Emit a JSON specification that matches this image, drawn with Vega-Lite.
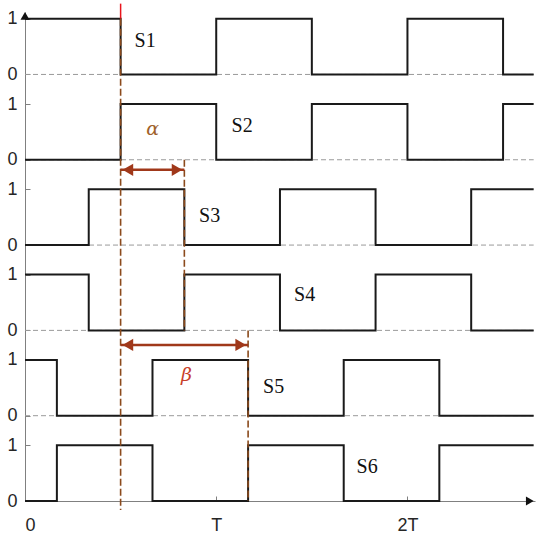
{
  "$schema": "https://vega.github.io/schema/vega-lite/v6.json",
  "width": 510,
  "height": 489,
  "autosize": {"type": "none"},
  "padding": {"left": 25, "top": 12, "right": 15, "bottom": 37},
  "background": "white",
  "view": {"stroke": null},
  "config": {
    "axis": {"grid": false, "domainColor": "#808080", "domainWidth": 1, "tickColor": "#808080", "tickSize": -5, "labelFont": "Liberation Sans", "labelFontSize": 18, "labelColor": "#262626", "title": null}
  },
  "datasets": {
    "sig": [
      {"s": "S1", "row": 5, "t": 0, "v": 1}, {"s": "S1", "row": 5, "t": 0.5, "v": 0}, {"s": "S1", "row": 5, "t": 1, "v": 1}, {"s": "S1", "row": 5, "t": 1.5, "v": 0}, {"s": "S1", "row": 5, "t": 2, "v": 1}, {"s": "S1", "row": 5, "t": 2.5, "v": 0}, {"s": "S1", "row": 5, "t": 2.66, "v": 0},
      {"s": "S2", "row": 4, "t": 0, "v": 0}, {"s": "S2", "row": 4, "t": 0.5, "v": 1}, {"s": "S2", "row": 4, "t": 1, "v": 0}, {"s": "S2", "row": 4, "t": 1.5, "v": 1}, {"s": "S2", "row": 4, "t": 2, "v": 0}, {"s": "S2", "row": 4, "t": 2.5, "v": 1}, {"s": "S2", "row": 4, "t": 2.66, "v": 1},
      {"s": "S3", "row": 3, "t": 0, "v": 0}, {"s": "S3", "row": 3, "t": 0.3333, "v": 1}, {"s": "S3", "row": 3, "t": 0.8333, "v": 0}, {"s": "S3", "row": 3, "t": 1.3333, "v": 1}, {"s": "S3", "row": 3, "t": 1.8333, "v": 0}, {"s": "S3", "row": 3, "t": 2.3333, "v": 1}, {"s": "S3", "row": 3, "t": 2.66, "v": 1},
      {"s": "S4", "row": 2, "t": 0, "v": 1}, {"s": "S4", "row": 2, "t": 0.3333, "v": 0}, {"s": "S4", "row": 2, "t": 0.8333, "v": 1}, {"s": "S4", "row": 2, "t": 1.3333, "v": 0}, {"s": "S4", "row": 2, "t": 1.8333, "v": 1}, {"s": "S4", "row": 2, "t": 2.3333, "v": 0}, {"s": "S4", "row": 2, "t": 2.66, "v": 0},
      {"s": "S5", "row": 1, "t": 0, "v": 1}, {"s": "S5", "row": 1, "t": 0.1667, "v": 0}, {"s": "S5", "row": 1, "t": 0.6667, "v": 1}, {"s": "S5", "row": 1, "t": 1.1667, "v": 0}, {"s": "S5", "row": 1, "t": 1.6667, "v": 1}, {"s": "S5", "row": 1, "t": 2.1667, "v": 0}, {"s": "S5", "row": 1, "t": 2.66, "v": 0},
      {"s": "S6", "row": 0, "t": 0, "v": 0}, {"s": "S6", "row": 0, "t": 0.1667, "v": 1}, {"s": "S6", "row": 0, "t": 0.6667, "v": 0}, {"s": "S6", "row": 0, "t": 1.1667, "v": 1}, {"s": "S6", "row": 0, "t": 1.6667, "v": 0}, {"s": "S6", "row": 0, "t": 2.1667, "v": 1}, {"s": "S6", "row": 0, "t": 2.66, "v": 1}
    ],
    "zero": [{"row": 1, "v": 0}, {"row": 2, "v": 0}, {"row": 3, "v": 0}, {"row": 4, "v": 0}, {"row": 5, "v": 0}],
    "vlines": [
      {"t": 0.5, "row": 5, "v": 1.0, "row2": 0, "v2": -0.16},
      {"t": 0.8333, "row": 4, "v": 0, "row2": 2, "v2": 0},
      {"t": 1.1667, "row": 2, "v": 0, "row2": 0, "v2": 0}
    ],
    "redtop": [{"t": 0.5, "row": 5, "v": 1.27, "row2": 5, "v2": 1.0}],
    "arrows": [
      {"name": "alpha", "row": 3, "v": 1.35, "t": 0.5, "t2": 0.8333},
      {"name": "beta", "row": 1, "v": 1.27, "t": 0.5, "t2": 1.1667}
    ],
    "heads": [
      {"row": 3, "v": 1.35, "t": 0.538, "dir": "triangle-left"},
      {"row": 3, "v": 1.35, "t": 0.795, "dir": "triangle-right"},
      {"row": 1, "v": 1.27, "t": 0.538, "dir": "triangle-left"},
      {"row": 1, "v": 1.27, "t": 1.128, "dir": "triangle-right"}
    ],
    "axisheads": [
      {"row": 5, "v": 1.05, "t": 0, "dir": "triangle-up"},
      {"row": 0, "v": 0, "t": 2.64, "dir": "triangle-right"}
    ],
    "labels": [
      {"row": 5, "v": 0.49, "t": 0.573, "text": "S1"},
      {"row": 4, "v": 0.50, "t": 1.080, "text": "S2"},
      {"row": 3, "v": 0.42, "t": 0.910, "text": "S3"},
      {"row": 2, "v": 0.52, "t": 1.407, "text": "S4"},
      {"row": 1, "v": 0.41, "t": 1.245, "text": "S5"},
      {"row": 0, "v": 0.50, "t": 1.734, "text": "S6"}
    ],
    "greek": [
      {"row": 4, "v": 0.44, "t": 0.667, "text": "α"},
      {"row": 1, "v": 0.63, "t": 0.844, "text": "β"}
    ]
  },
  "layer": [
    {
      "data": {"name": "zero"},
      "transform": [{"calculate": "datum.row * 1.53 + datum.v", "as": "y"}],
      "mark": {"type": "rule", "color": "#9a9a9a", "strokeWidth": 1, "strokeDash": [5, 3]},
      "encoding": {
        "x": {"datum": 0, "type": "quantitative", "scale": {"domain": [0, 2.667], "nice": false, "zero": false},
          "axis": {"values": [0, 1, 2], "labelExpr": "datum.value == 0 ? '0' : datum.value == 1 ? 'T' : '2T'", "labelPadding": 20}},
        "x2": {"datum": 2.66},
        "y": {"field": "y", "type": "quantitative", "scale": {"domain": [0, 8.77], "nice": false, "zero": false},
          "axis": {"values": [0, 1, 1.53, 2.53, 3.06, 4.06, 4.59, 5.59, 6.12, 7.12, 7.65, 8.65], "labelExpr": "indexof([0, 1.53, 3.06, 4.59, 6.12, 7.65], datum.value) >= 0 ? '0' : '1'", "labelPadding": 13}}
      }
    },
    {
      "data": {"name": "sig"},
      "transform": [{"calculate": "datum.row * 1.53 + datum.v", "as": "y"}],
      "mark": {"type": "line", "interpolate": "step-after", "color": "#1a1a1a", "strokeWidth": 2},
      "encoding": {
        "x": {"field": "t", "type": "quantitative"},
        "y": {"field": "y", "type": "quantitative"},
        "detail": {"field": "s"}
      }
    },
    {
      "data": {"name": "vlines"},
      "transform": [{"calculate": "datum.row * 1.53 + datum.v", "as": "y"}, {"calculate": "datum.row2 * 1.53 + datum.v2", "as": "y2"}],
      "mark": {"type": "rule", "color": "#8B4A1C", "strokeWidth": 1.6, "strokeDash": [7, 3]},
      "encoding": {
        "x": {"field": "t", "type": "quantitative"},
        "y": {"field": "y", "type": "quantitative"},
        "y2": {"field": "y2"}
      }
    },
    {
      "data": {"name": "redtop"},
      "transform": [{"calculate": "datum.row * 1.53 + datum.v", "as": "y"}, {"calculate": "datum.row2 * 1.53 + datum.v2", "as": "y2"}],
      "mark": {"type": "rule", "color": "#e8141c", "strokeWidth": 1.5},
      "encoding": {
        "x": {"field": "t", "type": "quantitative"},
        "y": {"field": "y", "type": "quantitative"},
        "y2": {"field": "y2"}
      }
    },
    {
      "data": {"name": "arrows"},
      "transform": [{"calculate": "datum.row * 1.53 + datum.v", "as": "y"}],
      "mark": {"type": "rule", "color": "#A0381A", "strokeWidth": 2.5},
      "encoding": {
        "x": {"field": "t", "type": "quantitative"},
        "x2": {"field": "t2"},
        "y": {"field": "y", "type": "quantitative"}
      }
    },
    {
      "data": {"name": "heads"},
      "transform": [{"calculate": "datum.row * 1.53 + datum.v", "as": "y"}],
      "mark": {"type": "point", "filled": true, "color": "#A0381A", "size": 150, "opacity": 1},
      "encoding": {
        "x": {"field": "t", "type": "quantitative"},
        "y": {"field": "y", "type": "quantitative"},
        "shape": {"field": "dir", "type": "nominal", "scale": null}
      }
    },
    {
      "data": {"name": "axisheads"},
      "transform": [{"calculate": "datum.row * 1.53 + datum.v", "as": "y"}],
      "mark": {"type": "point", "filled": true, "color": "#111111", "size": 80, "opacity": 1},
      "encoding": {
        "x": {"field": "t", "type": "quantitative"},
        "y": {"field": "y", "type": "quantitative"},
        "shape": {"field": "dir", "type": "nominal", "scale": null}
      }
    },
    {
      "data": {"name": "labels"},
      "transform": [{"calculate": "datum.row * 1.53 + datum.v", "as": "y"}],
      "mark": {"type": "text", "font": "Liberation Serif", "fontSize": 20, "color": "#111111", "align": "left", "baseline": "alphabetic"},
      "encoding": {
        "x": {"field": "t", "type": "quantitative"},
        "y": {"field": "y", "type": "quantitative"},
        "text": {"field": "text"}
      }
    },
    {
      "data": {"name": "greek"},
      "transform": [{"calculate": "datum.row * 1.53 + datum.v", "as": "y"}],
      "mark": {"type": "text", "font": "DejaVu Serif", "fontSize": 19, "fontStyle": "italic", "align": "center", "baseline": "alphabetic"},
      "encoding": {
        "x": {"field": "t", "type": "quantitative"},
        "y": {"field": "y", "type": "quantitative"},
        "text": {"field": "text"},
        "color": {"field": "text", "type": "nominal", "scale": {"domain": ["α", "β"], "range": ["#A0622A", "#C8402A"]}, "legend": null}
      }
    }
  ]
}
